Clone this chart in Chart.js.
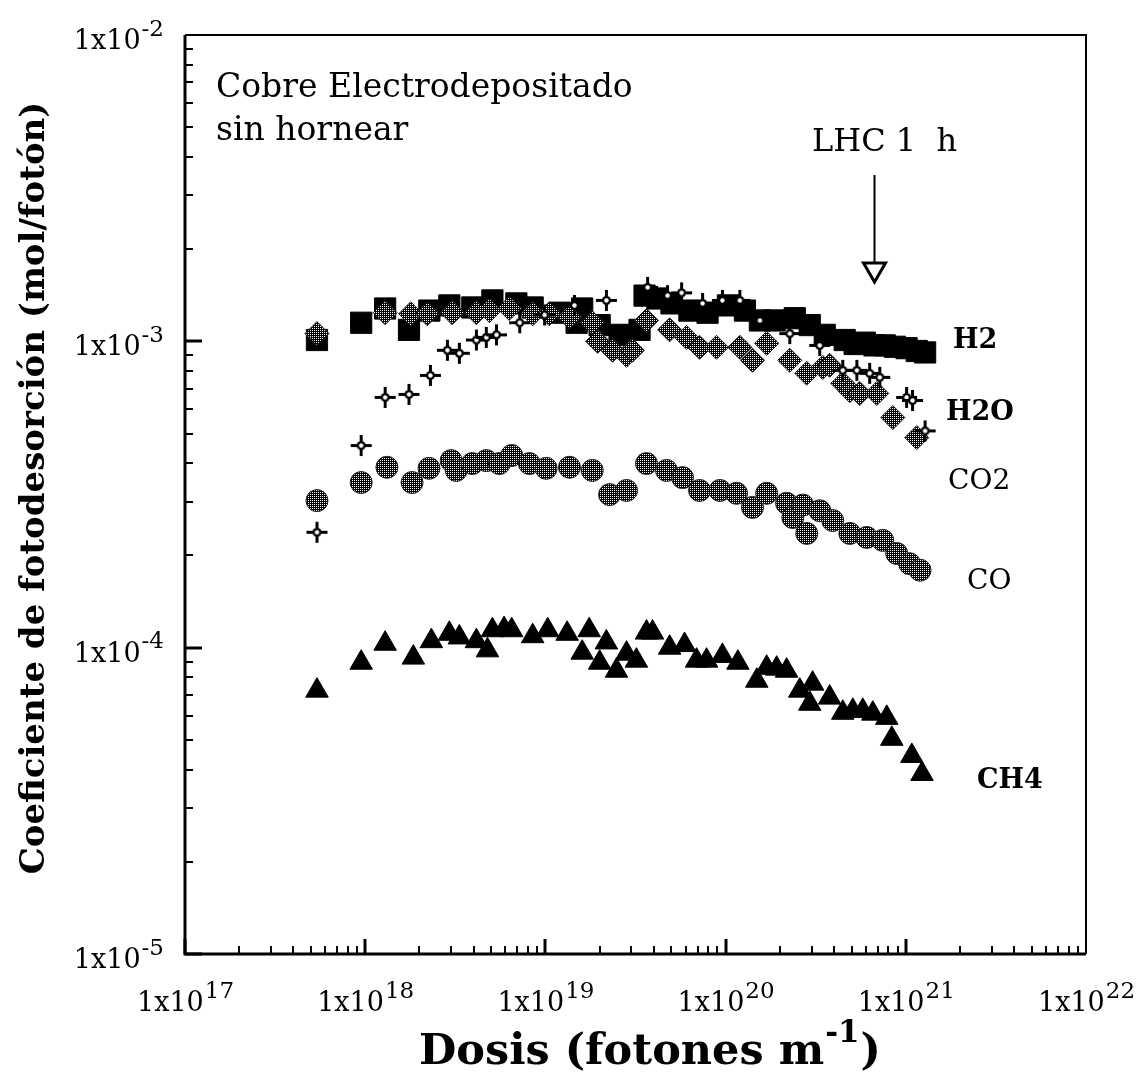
<!DOCTYPE html>
<html>
<head>
<meta charset="utf-8">
<script src="https://cdn.jsdelivr.net/npm/chart.js@4.4.0/dist/chart.umd.min.js"></script>
<style>
  html, body { margin: 0; padding: 0; background: #fff; }
  #wrap { width: 1142px; height: 1089px; }
</style>
</head>
<body>
<div id="wrap"><canvas id="grafico" width="1142" height="1089"></canvas></div>
<script>
// valores (dosis en fotones/m, coeficiente en mol/foton)
const h2Dosis = [5.4e17, 9.5e17, 1.29e18, 1.75e18, 2.27e18, 2.93e18, 3.93e18, 5.08e18, 6.9e18, 8.5e18,
  1.2e19, 1.49e19, 1.6e19, 2.0e19, 2.58e19, 3.33e19, 3.55e19, 4.19e19, 5.01e19, 6.3e19,
  7.94e19, 1.03e20, 1.28e20, 1.55e20, 1.87e20, 2.42e20, 2.93e20, 3.55e20, 4.58e20, 5.2e20,
  5.92e20, 6.7e20, 7.64e20, 8.7e20, 1.01e21, 1.15e21, 1.28e21];
const h2Coef = [1.01e-3, 1.15e-3, 1.28e-3, 1.09e-3, 1.26e-3, 1.31e-3, 1.29e-3, 1.36e-3, 1.33e-3, 1.29e-3,
  1.24e-3, 1.15e-3, 1.28e-3, 1.13e-3, 1.05e-3, 1.09e-3, 1.41e-3, 1.38e-3, 1.33e-3, 1.26e-3,
  1.24e-3, 1.31e-3, 1.26e-3, 1.17e-3, 1.17e-3, 1.19e-3, 1.13e-3, 1.05e-3, 1.01e-3, 0.98e-3,
  0.99e-3, 0.97e-3, 0.97e-3, 0.96e-3, 0.95e-3, 0.93e-3, 0.92e-3];

const h2oDosis = [5.4e17, 9.5e17, 1.29e18, 1.75e18, 2.3e18, 2.86e18, 3.33e18, 4.14e18, 4.7e18, 5.35e18,
  7.2e18, 9.9e18, 1.45e19, 2.18e19, 3.69e19, 4.76e19, 5.7e19, 7.45e19, 9.6e19, 1.2e20,
  1.55e20, 2.27e20, 3.33e20, 4.47e20, 5.35e20, 6.3e20, 7.17e20, 1.01e21, 1.09e21, 1.28e21];
const h2oCoef = [0.238e-3, 0.457e-3, 0.656e-3, 0.671e-3, 0.774e-3, 0.935e-3, 0.914e-3, 1.01e-3, 1.03e-3, 1.05e-3,
  1.15e-3, 1.22e-3, 1.31e-3, 1.36e-3, 1.5e-3, 1.41e-3, 1.44e-3, 1.33e-3, 1.36e-3, 1.36e-3,
  1.17e-3, 1.06e-3, 0.97e-3, 0.804e-3, 0.804e-3, 0.786e-3, 0.763e-3, 0.656e-3, 0.641e-3, 0.51e-3];

const co2Dosis = [5.4e17, 1.29e18, 1.79e18, 2.21e18, 3.04e18, 4.14e18, 4.89e18, 6.3e18, 8.5e18, 1.05e19,
  1.36e19, 1.82e19, 1.95e19, 2.36e19, 2.82e19, 3.04e19, 3.64e19, 4.89e19, 6.07e19, 7.17e19,
  8.9e19, 1.2e20, 1.41e20, 1.69e20, 2.27e20, 2.82e20, 3.46e20, 3.78e20, 4.47e20, 4.89e20,
  5.55e20, 6.9e20, 8.47e20, 1.15e21];
const co2Coef = [1.06e-3, 1.24e-3, 1.23e-3, 1.23e-3, 1.24e-3, 1.24e-3, 1.26e-3, 1.28e-3, 1.23e-3, 1.23e-3,
  1.2e-3, 1.15e-3, 1.0e-3, 0.935e-3, 0.9e-3, 0.935e-3, 1.17e-3, 1.09e-3, 1.03e-3, 0.956e-3,
  0.956e-3, 0.956e-3, 0.867e-3, 0.985e-3, 0.867e-3, 0.786e-3, 0.822e-3, 0.835e-3, 0.729e-3, 0.69e-3,
  0.676e-3, 0.676e-3, 0.564e-3, 0.485e-3];

const coDosis = [5.4e17, 9.5e17, 1.32e18, 1.82e18, 2.26e18, 3.0e18, 3.2e18, 3.93e18, 4.7e18, 5.55e18,
  6.5e18, 8.15e18, 1.01e19, 1.36e19, 1.82e19, 2.27e19, 2.82e19, 3.64e19, 4.7e19, 5.77e19,
  7.17e19, 9.3e19, 1.15e20, 1.41e20, 1.69e20, 2.18e20, 2.36e20, 2.68e20, 2.82e20, 3.33e20,
  3.93e20, 4.89e20, 6.07e20, 7.45e20, 8.9e20, 1.05e21, 1.2e21];
const coCoef = [0.302e-3, 0.346e-3, 0.388e-3, 0.346e-3, 0.385e-3, 0.408e-3, 0.379e-3, 0.399e-3, 0.408e-3, 0.399e-3,
  0.424e-3, 0.399e-3, 0.385e-3, 0.388e-3, 0.379e-3, 0.316e-3, 0.326e-3, 0.399e-3, 0.379e-3, 0.359e-3,
  0.326e-3, 0.326e-3, 0.319e-3, 0.287e-3, 0.319e-3, 0.296e-3, 0.266e-3, 0.292e-3, 0.236e-3, 0.28e-3,
  0.26e-3, 0.236e-3, 0.229e-3, 0.224e-3, 0.203e-3, 0.188e-3, 0.179e-3];

const ch4Dosis = [5.4e17, 9.5e17, 1.29e18, 1.85e18, 2.33e18, 2.93e18, 3.33e18, 4.14e18, 4.77e18, 5.08e18,
  5.9e18, 6.5e18, 8.5e18, 1.03e19, 1.32e19, 1.6e19, 1.75e19, 2.0e19, 2.18e19, 2.48e19,
  2.82e19, 3.2e19, 3.64e19, 3.93e19, 4.89e19, 5.92e19, 6.9e19, 7.84e19, 9.6e19, 1.17e20,
  1.49e20, 1.69e20, 1.92e20, 2.18e20, 2.58e20, 2.93e20, 3.04e20, 3.78e20, 4.47e20, 5.08e20,
  5.77e20, 6.56e20, 7.84e20, 8.36e20, 1.08e21, 1.23e21];
const ch4Coef = [0.724e-4, 0.893e-4, 1.03e-4, 0.928e-4, 1.05e-4, 1.11e-4, 1.08e-4, 1.05e-4, 0.98e-4, 1.14e-4,
  1.15e-4, 1.14e-4, 1.09e-4, 1.14e-4, 1.11e-4, 0.963e-4, 1.14e-4, 0.893e-4, 1.04e-4, 0.841e-4,
  0.956e-4, 0.907e-4, 1.12e-4, 1.12e-4, 1.0e-4, 1.02e-4, 0.907e-4, 0.907e-4, 0.94e-4, 0.893e-4,
  0.78e-4, 0.86e-4, 0.854e-4, 0.841e-4, 0.724e-4, 0.656e-4, 0.763e-4, 0.687e-4, 0.613e-4, 0.622e-4,
  0.622e-4, 0.609e-4, 0.59e-4, 0.504e-4, 0.443e-4, 0.387e-4];

const xDecadas = [17, 18, 19, 20, 21, 22];
const yDecadas = [-5, -4, -3, -2];
const lhcDosis = 6.7e20;

const serif = '"DejaVu Serif", "Liberation Serif", serif';

const puntos = (xs, ys) => xs.map((v, i) => ({ x: v, y: ys[i] }));

const canvas = document.getElementById('grafico');
const ctx0 = canvas.getContext('2d');

// trama gris tipo semitono (negra con puntos blancos)
function trama() {
  const c = document.createElement('canvas');
  c.width = 2; c.height = 2;
  const g = c.getContext('2d');
  g.fillStyle = '#000'; g.fillRect(0, 0, 2, 2);
  g.fillStyle = '#fff'; g.fillRect(0, 0, 1, 1);
  return ctx0.createPattern(c, 'repeat');
}

// cruz con centro hueco para H2O
function cruz() {
  const c = document.createElement('canvas');
  c.width = 23; c.height = 23;
  const g = c.getContext('2d');
  g.strokeStyle = '#000'; g.lineWidth = 3;
  g.beginPath();
  g.moveTo(1, 11.5); g.lineTo(22, 11.5);
  g.moveTo(11.5, 1); g.lineTo(11.5, 22);
  g.stroke();
  g.fillStyle = '#000';
  g.beginPath(); g.arc(11.5, 11.5, 4.5, 0, Math.PI * 2); g.fill();
  g.fillStyle = '#fff';
  g.beginPath(); g.arc(11.5, 11.5, 2.2, 0, Math.PI * 2); g.fill();
  return c;
}

const gris = trama();

function potencia(ctx, exp, x, y, alinear, tam) {
  const base = '1x10', sup = String(exp);
  ctx.font = tam + 'px ' + serif;
  const w1 = ctx.measureText(base).width;
  ctx.font = Math.round(tam * 0.85) + 'px ' + serif;
  const w2 = ctx.measureText(sup).width;
  const x0 = alinear === 'center' ? x - (w1 + w2) / 2 : x - (w1 + w2);
  ctx.textAlign = 'left';
  ctx.textBaseline = 'alphabetic';
  ctx.font = tam + 'px ' + serif;
  ctx.fillText(base, x0, y);
  ctx.font = Math.round(tam * 0.85) + 'px ' + serif;
  ctx.fillText(sup, x0 + w1 + 1, y - tam * 0.5);
}

const ejes = {
  id: 'ejes',
  beforeDatasetsDraw(chart) {
    const { ctx, chartArea: a, scales: { x, y } } = chart;
    ctx.save();
    ctx.strokeStyle = '#000';
    ctx.lineWidth = 2;
    ctx.beginPath();
    ctx.moveTo(a.left, a.top); ctx.lineTo(a.right, a.top); ctx.lineTo(a.right, a.bottom);
    ctx.stroke();
    ctx.lineWidth = 3;
    ctx.beginPath();
    ctx.moveTo(a.left, a.top); ctx.lineTo(a.left, a.bottom); ctx.lineTo(a.right, a.bottom);
    ctx.stroke();

    // marcas del eje x
    xDecadas.slice(0, -1).forEach(d => {
      for (let k = 1; k <= 9; k++) {
        const px = Math.round(x.getPixelForValue(k * Math.pow(10, d)));
        const largo = k === 1 ? 15 : 8;
        ctx.lineWidth = k === 1 ? 3 : 2;
        ctx.beginPath();
        ctx.moveTo(px, a.bottom); ctx.lineTo(px, a.bottom - largo);
        ctx.stroke();
      }
    });
    // marcas del eje y
    yDecadas.slice(0, -1).forEach(d => {
      for (let k = 1; k <= 9; k++) {
        const py = Math.round(y.getPixelForValue(k * Math.pow(10, d)));
        const largo = k === 1 ? 17 : 8;
        ctx.lineWidth = k === 1 ? 3 : 2;
        ctx.beginPath();
        ctx.moveTo(a.left, py); ctx.lineTo(a.left + largo, py);
        ctx.stroke();
      }
    });
    ctx.restore();
  },
  afterDraw(chart) {
    const { ctx, chartArea: a, scales: { x, y } } = chart;
    ctx.save();
    ctx.fillStyle = '#000';
    ctx.strokeStyle = '#000';

    // etiquetas de los ejes
    xDecadas.forEach(d => potencia(ctx, d, x.getPixelForValue(Math.pow(10, d)), a.bottom + 57, 'center', 27));
    yDecadas.forEach(d => potencia(ctx, d, 163, y.getPixelForValue(Math.pow(10, d)) + 14, 'right', 27));

    // titulo eje x
    ctx.font = 'bold 43px ' + serif;
    const t1 = 'Dosis (fotones m', t2 = '-1', t3 = ')';
    const w1 = ctx.measureText(t1).width, w3 = ctx.measureText(t3).width;
    ctx.font = 'bold 31px ' + serif;
    const w2 = ctx.measureText(t2).width;
    const x0 = 649 - (w1 + w2 + w3) / 2;
    ctx.textAlign = 'left';
    ctx.font = 'bold 43px ' + serif;
    ctx.fillText(t1, x0, 1064);
    ctx.font = 'bold 31px ' + serif;
    ctx.fillText(t2, x0 + w1 + 1, 1042);
    ctx.font = 'bold 43px ' + serif;
    ctx.fillText(t3, x0 + w1 + w2 + 2, 1064);

    // titulo eje y
    ctx.save();
    ctx.translate(44, 488);
    ctx.rotate(-Math.PI / 2);
    ctx.textAlign = 'center';
    ctx.font = 'bold 34px ' + serif;
    ctx.fillText('Coeficiente de fotodesorción (mol/fotón)', 0, 0);
    ctx.restore();

    // anotaciones
    ctx.textAlign = 'left';
    ctx.font = '33px ' + serif;
    ctx.fillText('Cobre Electrodepositado', 216, 97);
    ctx.fillText('sin hornear', 216, 140);
    ctx.font = '32px ' + serif;
    ctx.fillText('LHC 1  h', 812, 151);

    const ax = Math.round(x.getPixelForValue(lhcDosis)) + 0.5;
    ctx.lineWidth = 2;
    ctx.beginPath(); ctx.moveTo(ax, 175); ctx.lineTo(ax, 262); ctx.stroke();
    ctx.lineWidth = 3;
    ctx.fillStyle = '#fff';
    ctx.beginPath();
    ctx.moveTo(ax - 11, 263); ctx.lineTo(ax + 11, 263); ctx.lineTo(ax, 282); ctx.closePath();
    ctx.fill(); ctx.stroke();

    // nombres de las series
    ctx.fillStyle = '#000';
    ctx.font = 'bold 27px ' + serif;
    ctx.fillText('H2', 953, 348);
    ctx.fillText('H2O', 946, 420);
    ctx.font = '28px ' + serif;
    ctx.fillText('CO2', 948, 489);
    ctx.fillText('CO', 967, 589);
    ctx.font = 'bold 27px ' + serif;
    ctx.fillText('CH4', 977, 788);
    ctx.restore();
  }
};

new Chart(canvas, {
  type: 'scatter',
  data: {
    datasets: [
      {
        label: 'H2O',
        data: puntos(h2oDosis, h2oCoef),
        pointStyle: cruz(),
        pointRadius: 11
      },
      {
        label: 'CO2',
        data: puntos(co2Dosis, co2Coef),
        pointStyle: 'rectRot',
        pointRadius: 12,
        backgroundColor: gris,
        borderColor: '#222',
        borderWidth: 1
      },
      {
        label: 'H2',
        data: puntos(h2Dosis, h2Coef),
        pointStyle: 'rect',
        pointRadius: 15,
        backgroundColor: '#000',
        borderColor: '#000',
        borderWidth: 1
      },
      {
        label: 'CO',
        data: puntos(coDosis, coCoef),
        pointStyle: 'circle',
        pointRadius: 11,
        backgroundColor: gris,
        borderColor: '#222',
        borderWidth: 1
      },
      {
        label: 'CH4',
        data: puntos(ch4Dosis, ch4Coef),
        pointStyle: 'triangle',
        pointRadius: 13,
        backgroundColor: '#000',
        borderColor: '#000',
        borderWidth: 1
      }
    ]
  },
  options: {
    responsive: false,
    animation: false,
    events: [],
    layout: { padding: { left: 185, top: 35, right: 56, bottom: 135 } },
    plugins: {
      legend: { display: false },
      tooltip: { enabled: false }
    },
    scales: {
      x: { type: 'logarithmic', min: 1e17, max: 1e22, display: false },
      y: { type: 'logarithmic', min: 1e-5, max: 1e-2, display: false }
    }
  },
  plugins: [ejes]
});
</script>
</body>
</html>
